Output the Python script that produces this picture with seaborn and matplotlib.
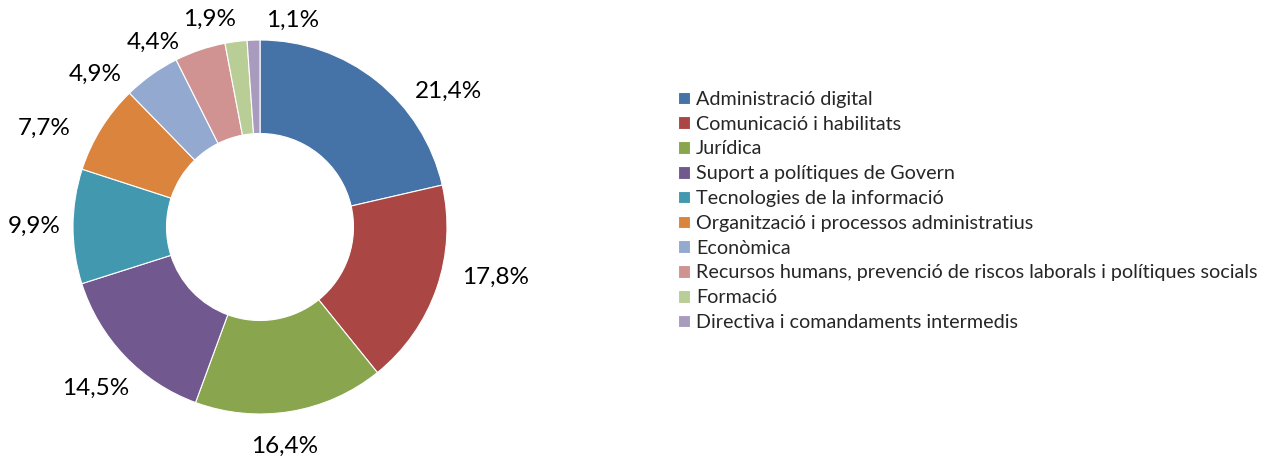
import matplotlib
matplotlib.use("Agg")
import matplotlib.pyplot as plt
import numpy as np
import seaborn as sns

# categories and shares (%)
categories = [
    "Administració digital",
    "Comunicació i habilitats",
    "Jurídica",
    "Suport a polítiques de Govern",
    "Tecnologies de la informació",
    "Organització i processos administratius",
    "Econòmica",
    "Recursos humans, prevenció de riscos laborals i polítiques socials",
    "Formació",
    "Directiva i comandaments intermedis",
]
shares = [21.4, 17.8, 16.4, 14.5, 9.9, 7.7, 4.9, 4.4, 1.9, 1.1]
colors = ["#4572A7", "#AA4643", "#89A54E", "#71588F", "#4198AF",
          "#DB843D", "#93A9CF", "#D19392", "#B9CD96", "#A99BBD"]

# label layout (Excel "best fit" look): angular nudge (deg) and radius factor
label_nudge = [15.8, -7.1, 2.9, -0.8, 0.0, -7.2, -11.7, -11.4, -6.2, 10.8]
label_radius = [1.24, 1.29, 1.18, 1.23, 1.21, 1.27, 1.20, 1.14, 1.14, 1.12]

sns.set_style("white")
plt.rcParams["font.family"] = ["Lato", "DejaVu Sans"]

fig = plt.figure(figsize=(12.62, 4.59), dpi=100)
ax = fig.add_axes([73 / 1262, 45 / 459, 374 / 1262, 374 / 459])

wedges, _ = ax.pie(
    shares, colors=colors, startangle=90, counterclock=False,
    wedgeprops=dict(width=0.5, edgecolor="white", linewidth=0.8),
)
for w, v, dn, rf in zip(wedges, shares, label_nudge, label_radius):
    mid = np.deg2rad((w.theta1 + w.theta2) / 2 - dn)
    ax.text(rf * np.cos(mid), rf * np.sin(mid), f"{v:.1f}%".replace(".", ","),
            ha="center", va="center", fontsize=17.5, color="black")
ax.set_xlim(-1, 1)
ax.set_ylim(-1, 1)
ax.set_aspect("equal")

fig.legend(wedges, categories, loc="upper left",
           bbox_to_anchor=(670 / 1262, 1 - 83 / 459),
           frameon=False, fontsize=14.2, handlelength=0.62, handleheight=0.62,
           handletextpad=0.3, labelspacing=0.395, borderaxespad=0)

fig.savefig("out.png", dpi=100)
